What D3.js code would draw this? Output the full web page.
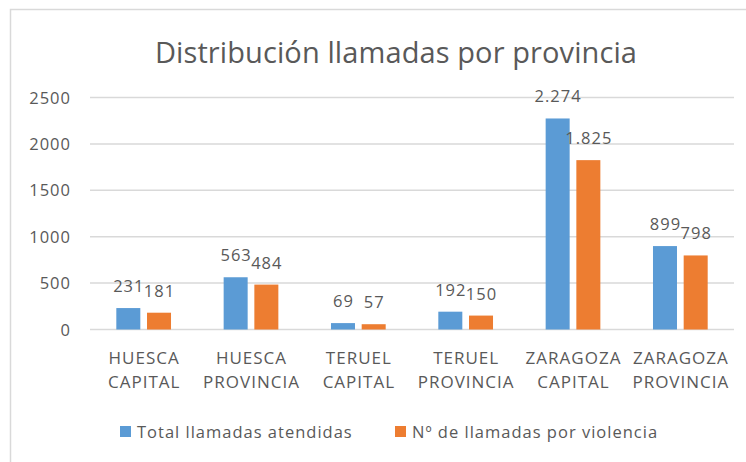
<!DOCTYPE html>
<html>
<head>
<meta charset="utf-8">
<script src="https://cdn.jsdelivr.net/npm/d3@7"></script>
<style>
  body { margin: 0; background: #fff; }
  text { font-family: "Open Sans", sans-serif; fill: #595959; letter-spacing: 1px; }
</style>
</head>
<body>
<svg id="chart" width="746" height="462"></svg>
<script>
// data
var categories = [["HUESCA", "CAPITAL"], ["HUESCA", "PROVINCIA"], ["TERUEL", "CAPITAL"],
                  ["TERUEL", "PROVINCIA"], ["ZARAGOZA", "CAPITAL"], ["ZARAGOZA", "PROVINCIA"]];
var seriesNames = ["Total llamadas atendidas", "Nº de llamadas por violencia"];
var totalLlamadas = [231, 563, 69, 192, 2274, 899];
var llamadasViolencia = [181, 484, 57, 150, 1825, 798];
var yTicks = [0, 500, 1000, 1500, 2000, 2500];
var colors = ["#5B9BD5", "#ED7D31"];

var svg = d3.select("#chart");

// outer chart border (only top and left visible)
svg.append("rect")
  .attr("x", 10.5).attr("y", 9.5)
  .attr("width", 760).attr("height", 470)
  .attr("fill", "none")
  .attr("stroke", "#D9D9D9")
  .attr("stroke-width", 1.5);

svg.append("text")
  .attr("x", 396).attr("y", 63)
  .attr("text-anchor", "middle")
  .attr("font-size", "29px")
  .style("letter-spacing", "0.1px")
  .text("Distribución llamadas por provincia");

var plot = { left: 90, right: 734, top: 97.5, bottom: 329.5 };

var y = d3.scaleLinear().domain([0, 2500]).range([plot.bottom, plot.top]);

var x0 = d3.scaleBand()
  .domain(d3.range(categories.length))
  .range([plot.left, plot.right])
  .padding(0);

var groupW = 54.7;
var x1 = d3.scaleBand()
  .domain([0, 1])
  .range([(x0.bandwidth() - groupW) / 2, (x0.bandwidth() + groupW) / 2])
  .paddingInner(0.218);

// gridlines
svg.append("g").selectAll("line")
  .data(yTicks)
  .join("line")
  .attr("x1", plot.left).attr("x2", plot.right)
  .attr("y1", function(d) { return y(d); })
  .attr("y2", function(d) { return y(d); })
  .attr("stroke", "#D9D9D9")
  .attr("stroke-width", 1.5);

// y tick labels
svg.append("g").selectAll("text")
  .data(yTicks)
  .join("text")
  .attr("x", 71)
  .attr("y", function(d) { return y(d) + 6; })
  .attr("text-anchor", "end")
  .attr("font-size", "16.5px")
  .text(function(d) { return d; });

var rows = categories.map(function(c, i) {
  return [totalLlamadas[i], llamadasViolencia[i]];
});

var fmt = function(v) {
  return v >= 1000 ? d3.format(",")(v).replace(",", ".") : String(v);
};

var groups = svg.append("g").selectAll("g")
  .data(rows)
  .join("g")
  .attr("transform", function(d, i) { return "translate(" + x0(i) + ",0)"; });

groups.selectAll("rect")
  .data(function(d) { return d; })
  .join("rect")
  .attr("x", function(d, j) { return x1(j); })
  .attr("y", function(d) { return y(d); })
  .attr("width", x1.bandwidth())
  .attr("height", function(d) { return y(0) - y(d); })
  .attr("fill", function(d, j) { return colors[j]; });

groups.selectAll("text.lbl")
  .data(function(d) { return d; })
  .join("text")
  .attr("class", "lbl")
  .attr("x", function(d, j) { return x1(j) + x1.bandwidth() / 2 + 0.5; })
  .attr("y", function(d) { return y(d) - 16; })
  .attr("text-anchor", "middle")
  .attr("font-size", "16.5px")
  .text(fmt);

// category labels (two lines)
var cat = svg.append("g").selectAll("text")
  .data(categories)
  .join("text")
  .attr("text-anchor", "middle")
  .attr("font-size", "17px")
  .attr("transform", function(d, i) { return "translate(" + (x0(i) + x0.bandwidth() / 2 + 0.5) + ",364)"; });
cat.append("tspan").attr("x", 0).attr("y", 0).text(function(d) { return d[0]; });
cat.append("tspan").attr("x", 0).attr("y", 24).text(function(d) { return d[1]; });

// legend
var legendX = [120, 395];
var leg = svg.append("g").selectAll("g")
  .data(seriesNames)
  .join("g")
  .attr("transform", function(d, i) { return "translate(" + legendX[i] + ",426)"; });
leg.append("rect")
  .attr("width", 11).attr("height", 11)
  .attr("fill", function(d, i) { return colors[i]; });
leg.append("text")
  .attr("x", 17).attr("y", 11.5)
  .attr("font-size", "16.5px")
  .text(function(d) { return d; });
</script>
</body>
</html>
